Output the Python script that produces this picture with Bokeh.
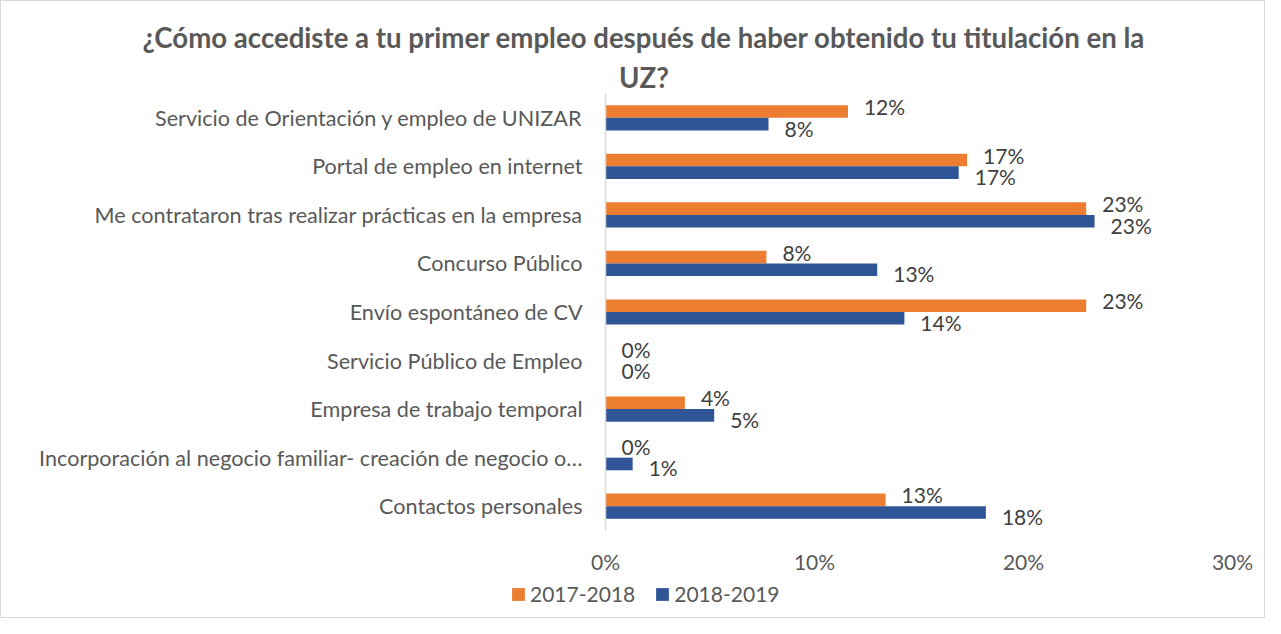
from bokeh.plotting import figure
from bokeh.models import ColumnDataSource, Legend, Title
from bokeh.core.properties import value
from bokeh.embed import file_html
from bokeh.resources import INLINE

categories = [
    "Servicio de Orientación y empleo de UNIZAR",
    "Portal de empleo en internet",
    "Me contrataron tras realizar prácticas en la empresa",
    "Concurso Público",
    "Envío espontáneo de CV",
    "Servicio Público de Empleo",
    "Empresa de trabajo temporal",
    "Incorporación al negocio familiar- creación de negocio o…",
    "Contactos personales",
]
series_2017_2018 = [11.6, 17.3, 23.0, 7.7, 23.0, 0.0, 3.8, 0.0, 13.4]
series_2018_2019 = [7.8, 16.9, 23.4, 13.0, 14.3, 0.0, 5.2, 1.3, 18.2]
series_names = ["2017-2018", "2018-2019"]
x_ticks = [0, 10, 20, 30]
title_lines = ["¿Cómo accediste a tu primer empleo después de haber obtenido tu titulación en la",
               "UZ?"]

FONT = "Lato"
ORANGE = "#ED7D31"
BLUE = "#2F5597"
GRAY = "#595959"
LABEL = "#404040"

# ---- layout (pixels inside the figure) ----
W, H = 1265, 618
FRAME_L, FRAME_T = 20, 92
ZERO_PX, THIRTY_PX = 604, 1231          # x positions of 0% and 30%
CAT_BOTTOM_PX = 529                     # bottom of the category band
TICK_LABEL_PX = 560                     # centre line of the % tick labels
LEGEND_ROW_PX = 595                     # centre line of the legend
LEGEND_LEFT_PX = 509

n = len(categories)
xscale = (THIRTY_PX - ZERO_PX) / 30.0
x_start = -(ZERO_PX - FRAME_L) / xscale
x_end = 30 + (W - THIRTY_PX) / xscale
unit = (CAT_BOTTOM_PX - FRAME_T) / n
y_end = n - 0.5
y_start = y_end - (H - FRAME_T) / unit
def y_at(px):
    return y_end - (px - FRAME_T) / unit

pos = [n - 1 - i for i in range(n)]
BAR_H, SHIFT = 0.26, 0.13

src = ColumnDataSource(dict(
    cat=categories,
    y=pos,
    ya=[v + SHIFT for v in pos],
    yb=[v - SHIFT for v in pos],
    a=series_2017_2018,
    b=series_2018_2019,
    la=[f"{v:.0f}%" for v in series_2017_2018],
    lb=[f"{v:.0f}%" for v in series_2018_2019],
    zero=[0] * n,
))
tick_src = ColumnDataSource(dict(
    x=x_ticks,
    y=[y_at(TICK_LABEL_PX)] * len(x_ticks),
    t=[f"{t}%" for t in x_ticks],
))

p = figure(
    width=W, height=H,
    x_range=(x_start, x_end), y_range=(y_start, y_end),
    output_backend="svg", toolbar_location=None,
    min_border_left=FRAME_L, min_border_right=0,
    min_border_top=FRAME_T, min_border_bottom=0,
)
p.styles = {"border": "1px solid #d9d9d9", "box-sizing": "border-box"}

r1 = p.hbar(y="ya", right="a", left=0, height=BAR_H,
            source=src, color=ORANGE, line_color=None)
r2 = p.hbar(y="yb", right="b", left=0, height=BAR_H,
            source=src, color=BLUE, line_color=None)

# value axis baseline (vertical line at 0%) spanning the category band
p.segment(x0=[0], x1=[0], y0=[y_end], y1=[y_at(CAT_BOTTOM_PX)],
          line_color="#d9d9d9", line_width=1.5)

# category labels
p.text(x="zero", y="y", text="cat", source=src, x_offset=-23,
       text_baseline="middle", text_align="right",
       text_font=value(FONT), text_font_size="21.6px", text_color=GRAY)

# data labels
p.text(x="a", y="ya", text="la", source=src,
       x_offset=16, y_offset=-5, text_baseline="middle", text_align="left",
       text_font=value(FONT), text_font_size="21px", text_color=LABEL)
p.text(x="b", y="yb", text="lb", source=src,
       x_offset=16, y_offset=4, text_baseline="middle", text_align="left",
       text_font=value(FONT), text_font_size="21px", text_color=LABEL)

# percentage tick labels
p.text(x="x", y="y", text="t", source=tick_src,
       text_baseline="middle", text_align="center",
       text_font=value(FONT), text_font_size="21px", text_color=GRAY)

p.xaxis.visible = False
p.yaxis.visible = False
p.xgrid.visible = False
p.ygrid.visible = False
p.outline_line_color = None

t2 = Title(text=title_lines[1], align="center",
           text_font=FONT, text_font_size="27.6px", text_font_style="bold",
           text_color=GRAY, standoff=0)
t1 = Title(text=title_lines[0], align="center",
           text_font=FONT, text_font_size="27.6px", text_font_style="bold",
           text_color=GRAY, standoff=10)
p.add_layout(t2, "above")
p.add_layout(t1, "above")

LEG_H = 20
legend = Legend(items=[(series_names[0], [r1]), (series_names[1], [r2])],
                orientation="horizontal",
                location=(LEGEND_LEFT_PX - FRAME_L, H - LEGEND_ROW_PX - LEG_H // 2),
                border_line_color=None, background_fill_alpha=0,
                label_text_font=FONT, label_text_font_size="21px",
                label_text_color=GRAY, glyph_width=16, glyph_height=16,
                label_height=LEG_H, label_standoff=4, spacing=19,
                padding=0, margin=0)
p.add_layout(legend, "center")

open("out.html", "w").write(file_html(p, INLINE))
